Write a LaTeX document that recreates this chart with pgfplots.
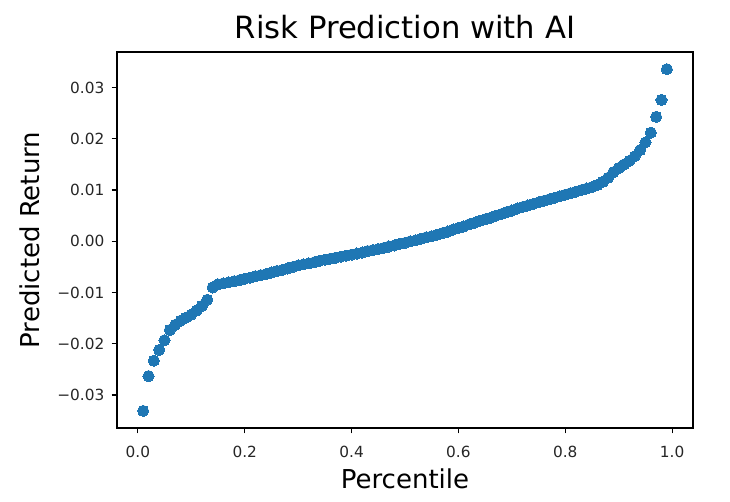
\documentclass[border=0pt]{standalone}
\usepackage{pgfplots}
\pgfplotsset{compat=1.18}
\usepackage{fontspec}
\setmainfont{DejaVu Sans}
\definecolor{mplblue}{HTML}{1F77B4}
\begin{document}
\begin{tikzpicture}
\path[use as bounding box] (-87.75pt,-55.5pt) rectangle (459.75pt,321pt);
\begin{axis}[
  at={(0,0)}, anchor=south west,
  width=432pt, height=282pt, scale only axis,
  xmin=-0.039, xmax=1.039,
  ymin=-0.03644, ymax=0.03695,
  scaled y ticks=false, scaled x ticks=false,
  axis line style={line width=0.9pt, black},
  tick align=outside, tick style={line width=0.9pt, black},
  major tick length=4pt,
  xtick={0,0.2,0.4,0.6,0.8,1.0},
  xticklabels={0.0,0.2,0.4,0.6,0.8,1.0},
  ytick={-0.03,-0.02,-0.01,0,0.01,0.02,0.03},
  yticklabels={−0.03,−0.02,−0.01,0.00,0.01,0.02,0.03},
  ticklabel style={font=\fontsize{11.5pt}{13pt}\selectfont, text=black!85},
  xticklabel style={yshift=-6pt},
  yticklabel style={xshift=-2pt},
  xtick pos=bottom, ytick pos=left,
  every axis title shift=0pt,
  title={Risk Prediction with AI},
  title style={font=\fontsize{23pt}{26pt}\selectfont, at={(rel axis cs:0.5,1.037)}, anchor=base, yshift=0pt},
  xlabel={Percentile},
  xlabel style={font=\fontsize{19.5pt}{22pt}\selectfont, at={(rel axis cs:0.5,-0.1596)}, anchor=base},
  ylabel={Predicted Return},
  ylabel style={font=\fontsize{19.5pt}{22pt}\selectfont, at={(rel axis cs:-0.152,0.5)}, anchor=center},
  clip=false,
]
\addplot[only marks, mark=*, mark size=4.2pt, mark options={fill=mplblue, draw=mplblue, line width=0pt}] table {
x y
0.01 -0.0331
0.02 -0.0263
0.03 -0.0233
0.04 -0.0212
0.05 -0.0193
0.06 -0.0173
0.07 -0.0163
0.08 -0.0155
0.09 -0.0149
0.10 -0.0143
0.11 -0.0135
0.12 -0.0126
0.13 -0.0114
0.14 -0.0090
0.15 -0.0084
0.16 -0.0082
0.17 -0.0080
0.18 -0.0078
0.19 -0.0076
0.20 -0.0073
0.21 -0.0071
0.22 -0.0068
0.23 -0.0066
0.24 -0.0064
0.25 -0.0061
0.26 -0.0058
0.27 -0.0056
0.28 -0.0053
0.29 -0.0050
0.30 -0.0047
0.31 -0.0045
0.32 -0.0043
0.33 -0.0041
0.34 -0.0038
0.35 -0.0036
0.36 -0.0034
0.37 -0.0032
0.38 -0.0030
0.39 -0.0028
0.40 -0.0026
0.41 -0.0024
0.42 -0.0022
0.43 -0.0019
0.44 -0.0017
0.45 -0.0015
0.46 -0.0013
0.47 -0.0010
0.48 -0.0008
0.49 -0.0005
0.50 -0.0003
0.51 0.0000
0.52 0.0002
0.53 0.0005
0.54 0.0008
0.55 0.0010
0.56 0.0013
0.57 0.0016
0.58 0.0019
0.59 0.0023
0.60 0.0026
0.61 0.0029
0.62 0.0033
0.63 0.0036
0.64 0.0040
0.65 0.0043
0.66 0.0046
0.67 0.0050
0.68 0.0053
0.69 0.0057
0.70 0.0060
0.71 0.0064
0.72 0.0067
0.73 0.0070
0.74 0.0073
0.75 0.0076
0.76 0.0079
0.77 0.0082
0.78 0.0085
0.79 0.0088
0.80 0.0091
0.81 0.0094
0.82 0.0097
0.83 0.0100
0.84 0.0103
0.85 0.0106
0.86 0.0110
0.87 0.0116
0.88 0.0124
0.89 0.0135
0.90 0.0143
0.91 0.0150
0.92 0.0157
0.93 0.0166
0.94 0.0178
0.95 0.0193
0.96 0.0212
0.97 0.0243
0.98 0.0276
0.99 0.0336
};
\end{axis}
\end{tikzpicture}
\end{document}
